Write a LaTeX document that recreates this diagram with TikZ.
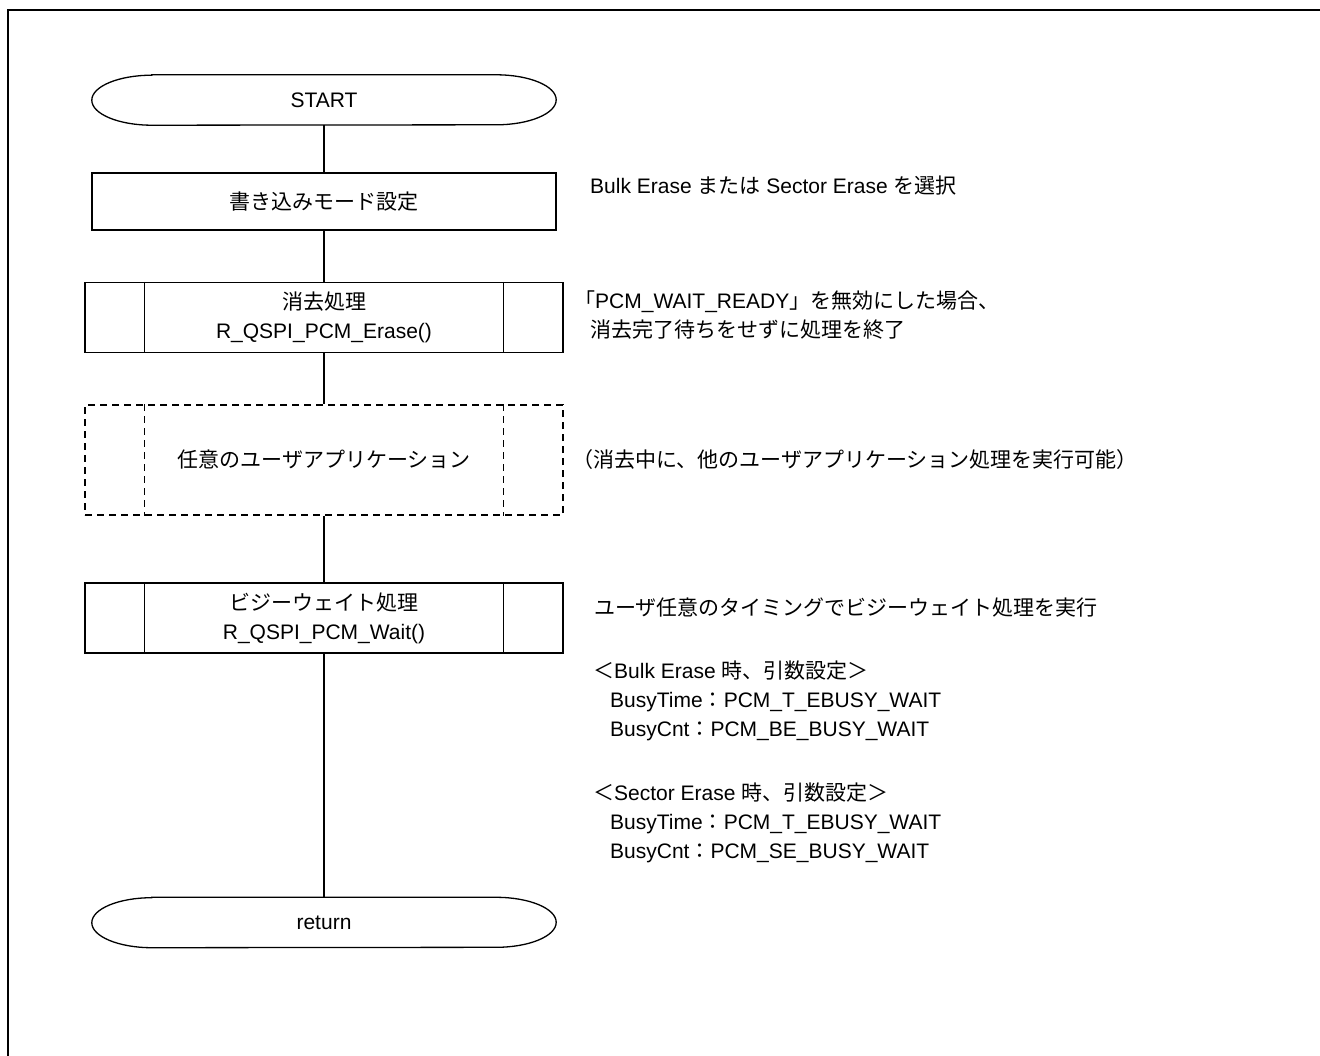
\documentclass[tikz,border=0pt]{standalone}
\usepackage{fontspec}
\setmainfont{Liberation Sans}
\newfontfamily\jp{Noto Sans CJK JP}

\begin{document}
\begin{tikzpicture}[x=1pt,y=1pt]
	\tikzset{line/.style = {line width=1.3pt}}
	\tikzset{txt/.style = {font=\fontsize{21}{29}\selectfont}}
	\tikzset{term/.style = {txt, minimum width=464pt, minimum height=50pt, inner sep=0pt}}
	\tikzset{proc/.style = {txt, draw, line, minimum width=464pt, minimum height=57pt, inner sep=0pt}}
	\tikzset{sub/.style = {proc, minimum width=478pt, minimum height=70pt, align=center}}
	\tikzset{subdash/.style = {sub, minimum height=110pt, dash pattern=on 7pt off 5pt}}
	\tikzset{note/.style = {txt, anchor=west, align=left, inner sep=0pt}}

	\useasboundingbox (0,0) rectangle (1320,-1055);
	\draw[line width=2.8pt] (8,-1075) |- (1340,-10);

	\node[term] (start) at (324,-100) {START};
	\node[proc] (mode) at (324,-201.5) {{\jp 書き込みモード設定}};
	\node[sub] (erase) at (324,-317.5) {{\jp 消去処理}\\R\_QSPI\_PCM\_Erase()};
	\node[subdash] (app) at (324,-460) {{\jp 任意のユーザアプリケーション}};
	\node[sub] (wait) at (324,-618) {{\jp ビジーウェイト処理}\\R\_QSPI\_PCM\_Wait()};
	\node[term] (ret) at (324,-922.5) {return};

	% terminal outlines
	\foreach \t in {start,ret}
		\draw[line] ([xshift=60]\t.north west) -- ([xshift=-60]\t.north east)
			arc[start angle=90, end angle=-90, x radius=60, y radius=25]
			-- ([xshift=60]\t.south west)
			arc[start angle=270, end angle=90, x radius=60, y radius=25] -- cycle;

	% side bars of the subroutine boxes
	\foreach \s in {erase,wait}
		\draw[line] ([xshift=60]\s.north west) -- ([xshift=60]\s.south west)
			([xshift=-60]\s.north east) -- ([xshift=-60]\s.south east);
	\draw[line, dash pattern=on 7pt off 5pt] ([xshift=60]app.north west) -- ([xshift=60]app.south west)
		([xshift=-60]app.north east) -- ([xshift=-60]app.south east);

	\draw[line] (start) -- (mode);
	\draw[line] (mode) -- (erase);
	\draw[line] (erase) -- (app);
	\draw[line] (app) -- (wait);
	\draw[line] (wait) -- (ret);

	% notes
	\node[note] (n1) at (590,-186) {Bulk Erase {\jp または} Sector Erase {\jp を選択}};
	\node[note] (n2) at (574,-315) {{\jp 「}PCM\_WAIT\_READY{\jp 」を無効にした場合、}\\
		\hspace*{16pt}{\jp 消去完了待ちをせずに処理を終了}};
	\node[note] (n3) at (572,-460) {{\jp （消去中に、他のユーザアプリケーション処理を実行可能）}};
	\node[note] (n4) at (594,-608) {{\jp ユーザ任意のタイミングでビジーウェイト処理を実行}};
	\node[note] (n5) at (593,-701) {{\jp ＜}Bulk Erase {\jp 時、引数設定＞}\\
		\hspace*{17pt}BusyTime{\jp ：}PCM\_T\_EBUSY\_WAIT\\
		\hspace*{17pt}BusyCnt{\jp ：}PCM\_BE\_BUSY\_WAIT};
	\node[note] (n6) at (593,-823) {{\jp ＜}Sector Erase {\jp 時、引数設定＞}\\
		\hspace*{17pt}BusyTime{\jp ：}PCM\_T\_EBUSY\_WAIT\\
		\hspace*{17pt}BusyCnt{\jp ：}PCM\_SE\_BUSY\_WAIT};
\end{tikzpicture}
\end{document}
